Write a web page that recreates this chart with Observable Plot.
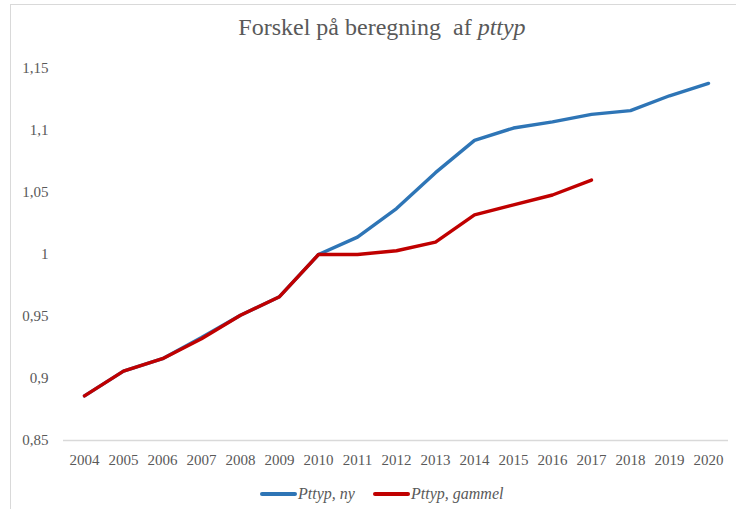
<!DOCTYPE html>
<html>
<head>
<meta charset="utf-8">
<script src="https://cdn.jsdelivr.net/npm/d3@7"></script>
<script src="https://cdn.jsdelivr.net/npm/@observablehq/plot@0.6"></script>
<style>
  html, body { margin: 0; padding: 0; background: #fff; }
  #wrap { position: relative; width: 736px; height: 509px; overflow: hidden; font-family: 'Liberation Serif', 'Times New Roman', serif; }
  #frame { position: absolute; left: 10px; top: 4px; right: -2px; bottom: -2px; border-left: 1.5px solid #d9d9d9; border-top: 1.5px solid #d9d9d9; }
  #title { position: absolute; left: 0; width: 764px; top: 14px; text-align: center; font-family: 'Liberation Serif', serif; font-size: 24px; color: #595959; white-space: nowrap; }
  #chart { position: absolute; left: 0; top: 0; }
  #chart svg text { font-family: 'Liberation Serif', serif; }
  .lg { position: absolute; font-family: 'Liberation Serif', serif; font-size: 16px; font-style: italic; color: #595959; line-height: 18px; top: 485px; white-space: nowrap; }
  .sw { position: absolute; width: 37px; height: 4px; top: 492px; border-radius: 2px; }
</style>
</head>
<body>
<div id="wrap">
  <div id="frame"></div>
  <div id="title">Forskel på beregning&nbsp; af <i>pttyp</i></div>
  <div id="chart"></div>
  <div id="legend"></div>
</div>
<script>
const years = ["2004","2005","2006","2007","2008","2009","2010","2011","2012","2013","2014","2015","2016","2017","2018","2019","2020"];
const pttypNy = [0.886, 0.906, 0.916, 0.933, 0.951, 0.966, 1.000, 1.014, 1.037, 1.066, 1.092, 1.102, 1.107, 1.113, 1.116, 1.128, 1.138];
const pttypGammel = [0.886, 0.906, 0.916, 0.932, 0.951, 0.966, 1.000, 1.000, 1.003, 1.010, 1.032, 1.040, 1.048, 1.060, null, null, null];
const yTicks = [0.85, 0.9, 0.95, 1.0, 1.05, 1.1, 1.15];
const seriesNames = ["Pttyp, ny", "Pttyp, gammel"];
const seriesColors = ["#2e75b6", "#c00000"];

const rows = [];
years.forEach((yr, i) => {
  rows.push({year: yr, value: pttypNy[i], series: seriesNames[0]});
  if (pttypGammel[i] != null) rows.push({year: yr, value: pttypGammel[i], series: seriesNames[1]});
});

const fmt = d => String(+d.toFixed(2)).replace(".", ",");

const chart = Plot.plot({
  width: 736,
  height: 480,
  marginLeft: 63,
  marginRight: 8,
  marginTop: 68,
  marginBottom: 40,
  style: { fontFamily: "'Liberation Serif', serif", fontSize: "15px", color: "#595959", background: "transparent" },
  x: { type: "point", domain: years, padding: 0.5, label: null },
  y: { domain: [0.85, 1.15], label: null },
  color: { domain: seriesNames, range: seriesColors },
  marks: [
    Plot.ruleY([0.85], { stroke: "#d9d9d9", strokeWidth: 1.5 }),
    Plot.axisX({ tickSize: 0, tickPadding: 14, fontSize: 15, fill: "#595959" }),
    Plot.axisY({ ticks: yTicks, tickFormat: fmt, tickSize: 0, tickPadding: 15, fontSize: 15, fill: "#595959" }),
    Plot.line(rows.filter(d => d.series === seriesNames[0]), { x: "year", y: "value", stroke: "series", strokeWidth: 3.4, strokeLinejoin: "round", strokeLinecap: "round" }),
    Plot.line(rows.filter(d => d.series === seriesNames[1]), { x: "year", y: "value", stroke: "series", strokeWidth: 3.4, strokeLinejoin: "round", strokeLinecap: "round" })
  ]
});
document.getElementById("chart").appendChild(chart);

// legend
const legend = document.getElementById("legend");
const legendPos = [{sw: 260, tx: 298}, {sw: 373, tx: 411}];
seriesNames.forEach((name, i) => {
  const sw = document.createElement("div");
  sw.className = "sw";
  sw.style.left = legendPos[i].sw + "px";
  sw.style.background = seriesColors[i];
  legend.appendChild(sw);
  const tx = document.createElement("div");
  tx.className = "lg";
  tx.style.left = legendPos[i].tx + "px";
  tx.textContent = name;
  legend.appendChild(tx);
});
</script>
</body>
</html>
